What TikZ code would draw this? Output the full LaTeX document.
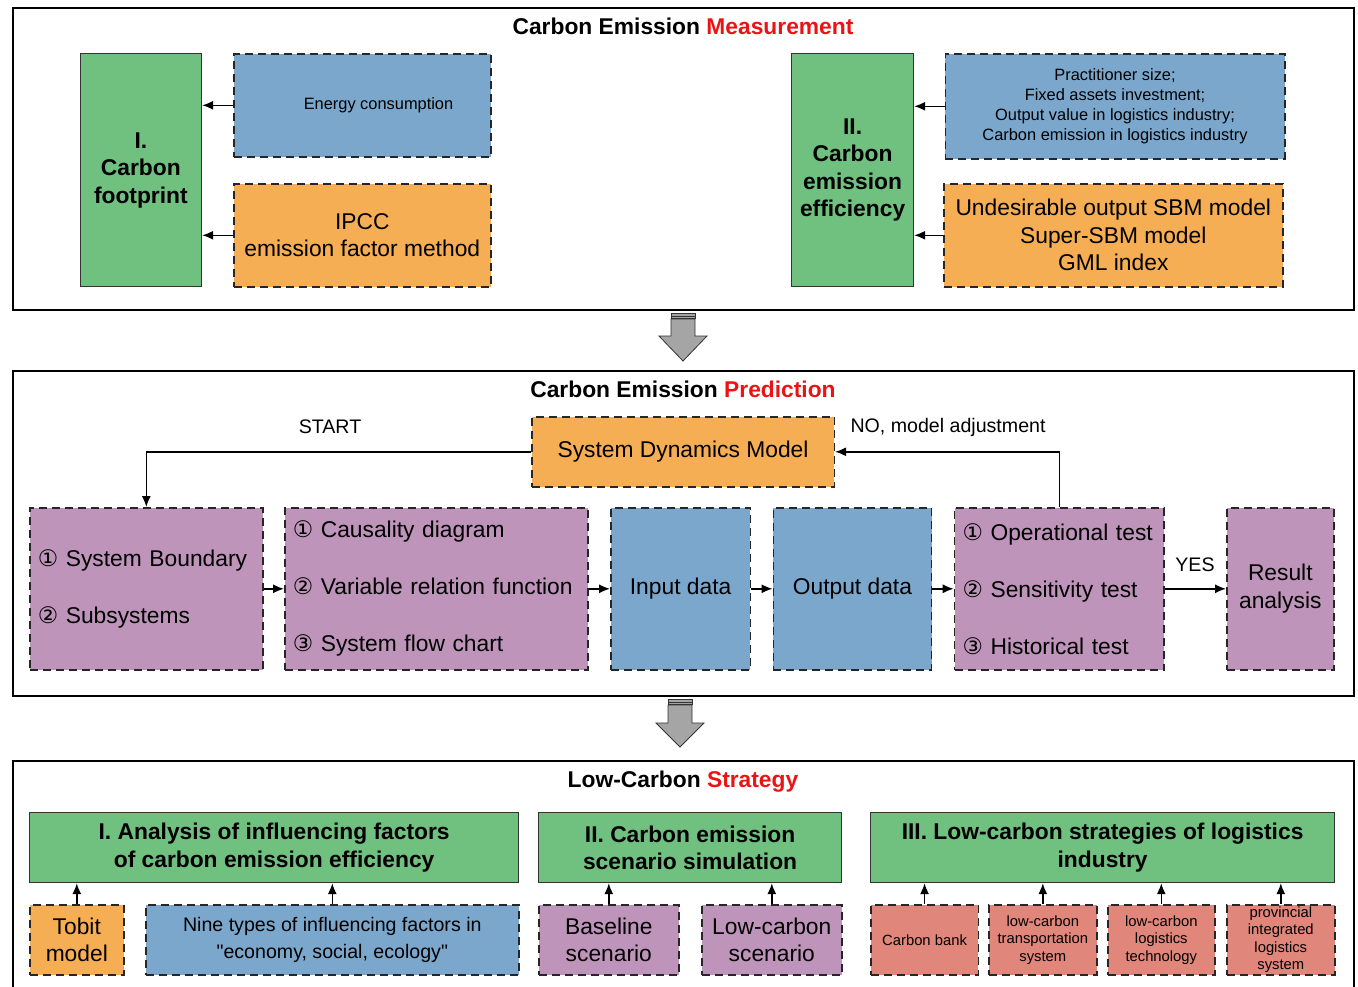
\documentclass[tikz,border=0pt]{standalone}
\usepackage{fontspec}
\setmainfont[Ligatures=TeXOff]{Liberation Sans}
\newfontfamily\circfont{DejaVu Sans}
\usetikzlibrary{arrows.meta}
\definecolor{cgreen}{RGB}{112,192,128}
\definecolor{cblue}{RGB}{123,167,204}
\definecolor{corange}{RGB}{246,174,84}
\definecolor{cpurple}{RGB}{190,148,186}
\definecolor{cred}{RGB}{224,134,122}
\definecolor{cgray}{RGB}{165,165,165}
\definecolor{tred}{RGB}{235,20,20}
\newcommand{\cA}{{\circfont ①}}
\newcommand{\cB}{{\circfont ②}}
\newcommand{\cC}{{\circfont ③}}
\begin{document}
\begin{tikzpicture}[x=1pt,y=-1pt,
  panel/.style={draw=black, line width=2.2pt, anchor=north west, inner sep=0pt},
  dbox/.style={draw=black!85, line width=1.6pt, dash pattern=on 8pt off 5pt, anchor=north west, inner sep=0pt, align=center},
  gbox/.style={draw=black!80, line width=1.2pt, fill=cgreen, anchor=north west, inner sep=0pt, align=center, font=\bfseries\fontsize{22.8}{27.5}\selectfont},
  arr/.style={-{Latex[length=11pt,width=9pt]}, line width=1.4pt},
  ttl/.style={font=\bfseries\fontsize{22.8}{27}\selectfont, anchor=base},
  big/.style={font=\fontsize{22.8}{27.5}\selectfont},
  mid/.style={font=\fontsize{19.6}{27}\selectfont},
  sml/.style={font=\fontsize{16.4}{19.7}\selectfont},
  tny/.style={font=\fontsize{14.8}{17.5}\selectfont},
  lst/.style={align=left, font=\fontsize{22.8}{57}\selectfont},
  bigarrow/.style={fill=cgray, draw=black!80, line width=0.8pt, line join=miter}
]
\useasboundingbox (0,0) rectangle (1358,987);
\clip (0,0) rectangle (1358,987);

% ---------- Panel 1 ----------
\node[panel, minimum width=1341pt, minimum height=302pt] (p1) at (12,7) {};
\node[ttl] (t1) at (683,35) {Carbon Emission \textcolor{tred}{Measurement}};
\node[gbox, minimum width=121.5pt, minimum height=233pt] (g1) at (79.5,53) {I.\\Carbon\\footprint};
\node[dbox, fill=cblue, minimum width=257pt, minimum height=103pt] (b1) at (233,53) {};
\node[sml] (b1t) at (378.5,105) {Energy consumption};
\node[dbox, fill=corange, big, minimum width=257pt, minimum height=103pt] (o1) at (233,183) {IPCC\\emission factor method};
\draw[arr] (b1.west) -- (b1.west -| g1.east);
\draw[arr] (o1.west) -- (o1.west -| g1.east);

\node[gbox, minimum width=122pt, minimum height=233pt] (g2) at (791,53) {II.\\Carbon\\emission\\efficiency};
\node[dbox, fill=cblue, sml, minimum width=339.5pt, minimum height=105pt] (b2) at (944.5,53) {Practitioner size;\\Fixed assets investment;\\Output value in logistics industry;\\Carbon emission in logistics industry};
\node[dbox, fill=corange, big, minimum width=339pt, minimum height=103pt] (o2) at (943,183) {Undesirable output SBM model\\Super-SBM model\\GML index};
\draw[arr] (b2.west) -- (b2.west -| g2.east);
\draw[arr] (o2.west) -- (o2.west -| g2.east);

% ---------- Big arrow 1 ----------
\draw[bigarrow] (671,313.5) rectangle (695,316);
\draw[bigarrow] (671,316.5) rectangle (695,318.5);
\draw[bigarrow] (671,319) -- (695,319) -- (695,336) -- (707,336) -- (683,361) -- (659,336) -- (671,336) -- cycle;

% ---------- Panel 2 ----------
\node[panel, minimum width=1341pt, minimum height=325pt] (p2) at (12,370) {};
\node[ttl] (t2) at (683,397) {Carbon Emission \textcolor{tred}{Prediction}};
\node[dbox, fill=corange, big, minimum width=302.5pt, minimum height=70pt] (sdm) at (531,416) {System Dynamics Model};
\node[dbox, fill=cpurple, lst, minimum width=233pt, minimum height=162pt, text width=217pt] (sa) at (29,507) {\cA\ System Boundary\\\cB\ Subsystems};
\node[dbox, fill=cpurple, lst, minimum width=303pt, minimum height=162pt, text width=287pt] (sb) at (284,507) {\cA\ Causality diagram\\\cB\ Variable relation function\\\cC\ System flow chart};
\node[dbox, fill=cblue, big, minimum width=139.6pt, minimum height=162pt] (inp) at (610,507) {Input data};
\node[dbox, fill=cblue, big, minimum width=158.3pt, minimum height=162pt] (outp) at (772.5,507) {Output data};
\node[dbox, fill=cpurple, lst, minimum width=209.7pt, minimum height=162pt, text width=193.7pt] (tst) at (953.7,507) {\cA\ Operational test\\\cB\ Sensitivity test\\\cC\ Historical test};
\node[dbox, fill=cpurple, big, minimum width=107pt, minimum height=162pt] (res) at (1226,507) {Result\\analysis};

\node[mid] (lstart) at (330,427) {START};
\node[mid, anchor=west] (lno) at (847,427) {NO, model adjustment};
\node[mid] (lyes) at (1195,565) {YES};

\draw[arr] (sdm.west) -| (sa.north);
\draw[arr] (tst.north) |- (sdm.east);
\draw[arr] (sa.east) -- (sb.west);
\draw[arr] (sb.east) -- (inp.west);
\draw[arr] (inp.east) -- (outp.west);
\draw[arr] (outp.east) -- (tst.west);
\draw[arr] (tst.east) -- (res.west);

% ---------- Big arrow 2 ----------
\draw[bigarrow] (668,699.5) rectangle (692,702);
\draw[bigarrow] (668,702.5) rectangle (692,704.5);
\draw[bigarrow] (668,705) -- (692,705) -- (692,723) -- (704,723) -- (680,747) -- (656,723) -- (668,723) -- cycle;

% ---------- Panel 3 ----------
\node[panel, minimum width=1341pt, minimum height=240pt] (p3) at (12,760) {};
\node[ttl] (t3) at (683,787) {Low-Carbon \textcolor{tred}{Strategy}};
\node[gbox, minimum width=489pt, minimum height=70pt] (sg1) at (29,812) {I. Analysis of influencing factors\\of carbon emission efficiency};
\node[gbox, minimum width=303pt, minimum height=70pt] (sg2) at (538,812) {II. Carbon emission\\scenario simulation};
\node[gbox, minimum width=464pt, minimum height=70pt] (sg3) at (870,812) {III. Low-carbon strategies of logistics\\industry};

\node[dbox, fill=corange, big, minimum width=94pt, minimum height=70pt] (tob) at (29,904) {Tobit\\model};
\node[dbox, fill=cblue, mid, minimum width=373pt, minimum height=70pt] (nine) at (145,904) {Nine types of influencing factors in\\"economy, social, ecology"};
\node[dbox, fill=cpurple, big, minimum width=140pt, minimum height=70pt] (base) at (538,904) {Baseline\\scenario};
\node[dbox, fill=cpurple, big, minimum width=140pt, minimum height=70pt] (lcs) at (701,904) {Low-carbon\\scenario};
\node[dbox, fill=cred, tny, minimum width=107.5pt, minimum height=70pt] (cb) at (870,904) {Carbon bank};
\node[dbox, fill=cred, tny, minimum width=108pt, minimum height=70pt] (trs) at (988,904) {low-carbon\\transportation\\system};
\node[dbox, fill=cred, tny, minimum width=107pt, minimum height=70pt] (tec) at (1107,904) {low-carbon\\logistics\\technology};
\node[dbox, fill=cred, tny, minimum width=108pt, minimum height=70pt] (prv) at (1226,904) {provincial\\integrated\\logistics\\system};

\draw[arr] (tob.north) -- (tob.north |- sg1.south);
\draw[arr] (nine.north) -- (nine.north |- sg1.south);
\draw[arr] (base.north) -- (base.north |- sg2.south);
\draw[arr] (lcs.north) -- (lcs.north |- sg2.south);
\draw[arr] (cb.north) -- (cb.north |- sg3.south);
\draw[arr] (trs.north) -- (trs.north |- sg3.south);
\draw[arr] (tec.north) -- (tec.north |- sg3.south);
\draw[arr] (prv.north) -- (prv.north |- sg3.south);
\end{tikzpicture}
\end{document}
